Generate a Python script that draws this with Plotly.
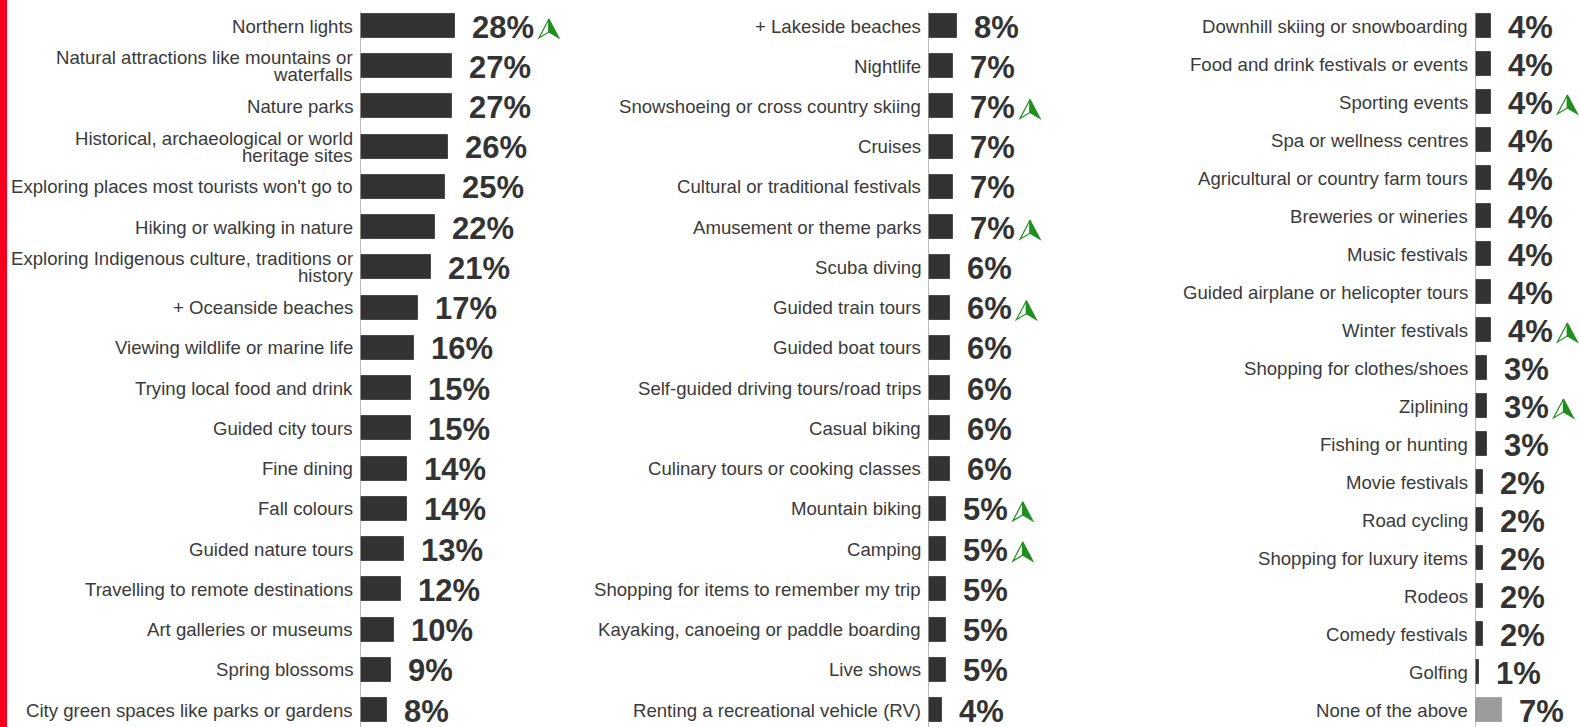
import plotly.graph_objects as go

# ---- data -------------------------------------------------------------
left_labels = [
    "Northern lights",
    "Natural attractions like mountains or<br>waterfalls",
    "Nature parks",
    "Historical, archaeological or world<br>heritage sites",
    "Exploring places most tourists won't go to",
    "Hiking or walking in nature",
    "Exploring Indigenous culture, traditions or<br>history",
    "+ Oceanside beaches",
    "Viewing wildlife or marine life",
    "Trying local food and drink",
    "Guided city tours",
    "Fine dining",
    "Fall colours",
    "Guided nature tours",
    "Travelling to remote destinations",
    "Art galleries or museums",
    "Spring blossoms",
    "City green spaces like parks or gardens",
]
left_values = [28, 27, 27, 26, 25, 22, 21, 17, 16, 15, 15, 14, 14, 13, 12, 10, 9, 8]
left_up = ["Northern lights"]

mid_labels = [
    "+ Lakeside beaches",
    "Nightlife",
    "Snowshoeing or cross country skiing",
    "Cruises",
    "Cultural or traditional festivals",
    "Amusement or theme parks",
    "Scuba diving",
    "Guided train tours",
    "Guided boat tours",
    "Self-guided driving tours/road trips",
    "Casual biking",
    "Culinary tours or cooking classes",
    "Mountain biking",
    "Camping",
    "Shopping for items to remember my trip",
    "Kayaking, canoeing or paddle boarding",
    "Live shows",
    "Renting a recreational vehicle (RV)",
]
mid_values = [8, 7, 7, 7, 7, 7, 6, 6, 6, 6, 6, 6, 5, 5, 5, 5, 5, 4]
mid_up = ["Snowshoeing or cross country skiing", "Amusement or theme parks",
          "Guided train tours", "Mountain biking", "Camping"]

right_labels = [
    "Downhill skiing or snowboarding",
    "Food and drink festivals or events",
    "Sporting events",
    "Spa or wellness centres",
    "Agricultural or country farm tours",
    "Breweries or wineries",
    "Music festivals",
    "Guided airplane or helicopter tours",
    "Winter festivals",
    "Shopping for clothes/shoes",
    "Ziplining",
    "Fishing or hunting",
    "Movie festivals",
    "Road cycling",
    "Shopping for luxury items",
    "Rodeos",
    "Comedy festivals",
    "Golfing",
    "None of the above",
]
right_values = [4, 4, 4, 4, 4, 4, 4, 4, 4, 3, 3, 3, 2, 2, 2, 2, 2, 1, 7]
right_up = ["Sporting events", "Winter festivals", "Ziplining"]
right_muted = ["None of the above"]

# ---- styling ----------------------------------------------------------
W, H = 1579, 727
FONT = "Liberation Sans, Arial, sans-serif"
BAR = "#333333"
BAR_EDGE = "#4a4a4a"
MUTED = "#9b9b9b"
GREEN = "#1f8f1f"
LABEL_COLOR = "#3a3a3a"
LABEL_SIZE = 18.6
LINE_STEP = 17
VALUE_COLOR = "#333333"
VALUE_SIZE = 31

# panel geometry: axis position (px), width (px), px per percent, first row
# centre (px), row pitch (px), bar thickness (px)
panels = [
    dict(labels=left_labels, values=left_values, up=left_up, muted=[],
         x0=360, width=200, scale=3.39, c0=26, pitch=40.24, bar=24),
    dict(labels=mid_labels, values=mid_values, up=mid_up, muted=[],
         x0=928, width=200, scale=3.6, c0=26, pitch=40.24, bar=24),
    dict(labels=right_labels, values=right_values, up=right_up, muted=right_muted,
         x0=1475, width=W - 1475, scale=3.9, c0=26, pitch=38.0, bar=24),
]


def value_text_width(txt):
    widths = {"%": 0.889}
    return sum(widths.get(ch, 0.556) for ch in txt) * VALUE_SIZE


def path(pts):
    return "M" + " L".join(f"{a:.1f},{b:.1f}" for a, b in pts) + " Z"


fig = go.Figure()
shapes = []
annotations = []

# red stripe on the far left
shapes.append(dict(type="rect", xref="paper", yref="paper", x0=0, x1=7 / W,
                   y0=0, y1=1, fillcolor="#f5001e", line=dict(width=0),
                   layer="below"))

for k, p in enumerate(panels, start=1):
    xa = "x" if k == 1 else f"x{k}"
    ya = "y" if k == 1 else f"y{k}"
    n = len(p["labels"])
    idx = list(range(n))
    xmax = p["width"] / p["scale"]
    ytop = -p["c0"] / p["pitch"]
    ybot = (H - p["c0"]) / p["pitch"]

    colors = [MUTED if lab in p["muted"] else BAR for lab in p["labels"]]
    edges = ["#a8a8a8" if lab in p["muted"] else BAR_EDGE for lab in p["labels"]]
    fig.add_trace(go.Bar(
        x=p["values"], y=idx, orientation="h",
        width=p["bar"] / p["pitch"],
        marker=dict(color=colors, line=dict(color=edges, width=1)),
        xaxis=xa, yaxis=ya, showlegend=False, hoverinfo="skip",
    ))

    axis_key = "xaxis" if k == 1 else f"xaxis{k}"
    yaxis_key = "yaxis" if k == 1 else f"yaxis{k}"
    fig.update_layout(**{
        axis_key: dict(domain=[p["x0"] / W, (p["x0"] + p["width"]) / W],
                       range=[0, xmax], visible=False, anchor=ya, fixedrange=True),
        yaxis_key: dict(domain=[0, 1], range=[ybot, ytop], visible=False,
                        anchor=xa, fixedrange=True),
    })

    # vertical axis line
    shapes.append(dict(type="line", xref=xa, yref=ya, x0=0, x1=0,
                       y0=-0.36, y1=ybot, line=dict(color="#a3a3a3", width=1.5),
                       layer="above"))

    for i, (lab, val) in enumerate(zip(p["labels"], p["values"])):
        # category label, drawn line by line for a tight line spacing
        lines = lab.split("<br>")
        nl = len(lines)
        for j, line in enumerate(lines):
            annotations.append(dict(
                x=0, y=i, xref=xa, yref=ya, text=line, showarrow=False,
                xanchor="right", yanchor="middle", xshift=-5,
                yshift=(nl - 1) / 2 * LINE_STEP - j * LINE_STEP,
                font=dict(family=FONT, size=LABEL_SIZE, color=LABEL_COLOR),
            ))
        # value label
        vt = f"{val}%"
        annotations.append(dict(
            x=val, y=i, xref=xa, yref=ya, text=f"<b>{vt}</b>", showarrow=False,
            xanchor="left", yanchor="middle", xshift=15, yshift=-1,
            font=dict(family=FONT, size=VALUE_SIZE, color=VALUE_COLOR),
        ))
        # green "up" arrow after the value label
        if lab in p["up"]:
            cx = 17 + value_text_width(vt) + 15
            common = dict(xref=xa, yref=ya, xsizemode="pixel", ysizemode="pixel",
                          xanchor=val, yanchor=i, layer="above")
            tip = (cx, 7)
            notch = (cx, -6)
            lb = (cx - 10, -12)
            rb = (cx + 10, -12)
            shapes.append(dict(type="path", path=path([tip, notch, lb]),
                               fillcolor="white", line=dict(color=GREEN, width=1.2),
                               **common))
            shapes.append(dict(type="path", path=path([tip, rb, notch]),
                               fillcolor=GREEN, line=dict(color=GREEN, width=1.2),
                               **common))

fig.update_layout(
    width=W, height=H,
    margin=dict(l=0, r=0, t=0, b=0),
    paper_bgcolor="white", plot_bgcolor="rgba(0,0,0,0)",
    bargap=0, barmode="overlay",
    shapes=shapes, annotations=annotations,
    font=dict(family=FONT),
)

fig.write_html("out.html", config={"displayModeBar": False})
